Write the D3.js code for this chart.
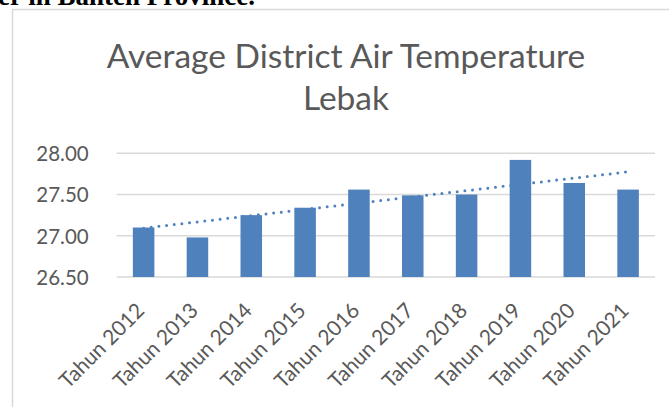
<!DOCTYPE html>
<html>
<head>
<meta charset="utf-8">
<script src="https://cdn.jsdelivr.net/npm/d3@7"></script>
<style>
  body { margin: 0; background: #fff; }
  svg { display: block; }
</style>
</head>
<body>
<svg class="chart"></svg>
<script>
// Data
var years = ['Tahun 2012', 'Tahun 2013', 'Tahun 2014', 'Tahun 2015', 'Tahun 2016',
             'Tahun 2017', 'Tahun 2018', 'Tahun 2019', 'Tahun 2020', 'Tahun 2021'];
var temps = [27.10, 26.98, 27.25, 27.34, 27.56, 27.49, 27.50, 27.92, 27.64, 27.56];
var yTicks = [26.5, 27.0, 27.5, 28.0];
var titleLines = ['Average District Air Temperature', 'Lebak'];

// Global setup
var W = 669, H = 407;
var plot = {left: 116.7, right: 655, top: 153.3, bottom: 277};
var blue = '#4f81bd';
var grey = '#595959';
var font = 'Lato, "Open Sans", sans-serif';

var svg = d3.select('.chart')
  .attr('width', W)
  .attr('height', H);

// clipped caption line from the document above the chart
svg.append('text')
  .attr('x', -2)
  .attr('y', 5)
  .attr('font-family', '"Liberation Serif", "DejaVu Serif", serif')
  .attr('font-weight', 'bold')
  .attr('font-size', 27)
  .attr('fill', '#000')
  .text('er in Banten Province.');

// chart frame (runs off the page on right and bottom)
svg.append('rect')
  .attr('x', 12.5)
  .attr('y', 9.5)
  .attr('width', W + 20)
  .attr('height', H + 20)
  .attr('fill', 'none')
  .attr('stroke', '#d9d9d9')
  .attr('stroke-width', 1.5);

// Title
svg.append('g').selectAll('text')
  .data(titleLines)
  .enter()
  .append('text')
  .attr('x', 346)
  .attr('y', function (d, i) { return 68 + i * 42; })
  .attr('text-anchor', 'middle')
  .attr('font-family', font)
  .attr('font-size', 33.5)
  .attr('fill', grey)
  .text(function (d) { return d; });

// Scales
var x = d3.scaleBand()
  .domain(years)
  .range([plot.left, plot.right])
  .paddingInner(0.6)
  .paddingOuter(0.3);

var y = d3.scaleLinear()
  .domain([26.5, 28])
  .range([plot.bottom, plot.top]);

// Gridlines
svg.append('g').selectAll('line')
  .data(yTicks)
  .enter()
  .append('line')
  .attr('x1', plot.left)
  .attr('x2', plot.right)
  .attr('y1', function (d) { return y(d); })
  .attr('y2', function (d) { return y(d); })
  .attr('stroke', '#d9d9d9')
  .attr('stroke-width', 1.5);

// Y axis labels
var yAxis = d3.axisLeft(y)
  .tickValues(yTicks)
  .tickFormat(d3.format('.2f'))
  .tickSize(0)
  .tickPadding(28);

var yg = svg.append('g')
  .attr('transform', 'translate(' + plot.left + ',0)')
  .call(yAxis);
yg.select('.domain').remove();
yg.selectAll('text')
  .attr('font-family', font)
  .attr('font-size', 20.5)
  .attr('fill', grey)
  .attr('dy', '0.36em');

// Bars
svg.append('g').selectAll('rect')
  .data(temps)
  .enter()
  .append('rect')
  .attr('x', function (d, i) { return x(years[i]); })
  .attr('y', function (d) { return y(d); })
  .attr('width', x.bandwidth())
  .attr('height', function (d) { return y(26.5) - y(d); })
  .attr('fill', blue);

// Linear trendline (least squares over the bar values)
var idx = d3.range(temps.length);
var mx = d3.mean(idx), my = d3.mean(temps);
var slope = d3.sum(idx, function (i) { return (i - mx) * (temps[i] - my); }) /
            d3.sum(idx, function (i) { return (i - mx) * (i - mx); });
var icpt = my - slope * mx;
var trend = [0, temps.length - 1].map(function (i) {
  return [x(years[i]) + x.bandwidth() / 2, y(icpt + slope * i)];
});

svg.append('path')
  .attr('d', d3.line()(trend))
  .attr('fill', 'none')
  .attr('stroke', blue)
  .attr('stroke-width', 3)
  .attr('stroke-linecap', 'round')
  .attr('stroke-dasharray', '0 7.7');

// X axis labels, rotated
var xAxis = d3.axisBottom(x).tickSize(0).tickPadding(0);
var xg = svg.append('g')
  .attr('transform', 'translate(0,' + plot.bottom + ')')
  .call(xAxis);
xg.select('.domain').remove();
xg.selectAll('.tick text')
  .attr('font-family', font)
  .attr('font-size', 21)
  .attr('fill', grey)
  .attr('text-anchor', 'end')
  .attr('y', 0)
  .attr('dy', 0)
  .attr('transform', 'translate(2,35) rotate(-45)');
</script>
</body>
</html>
